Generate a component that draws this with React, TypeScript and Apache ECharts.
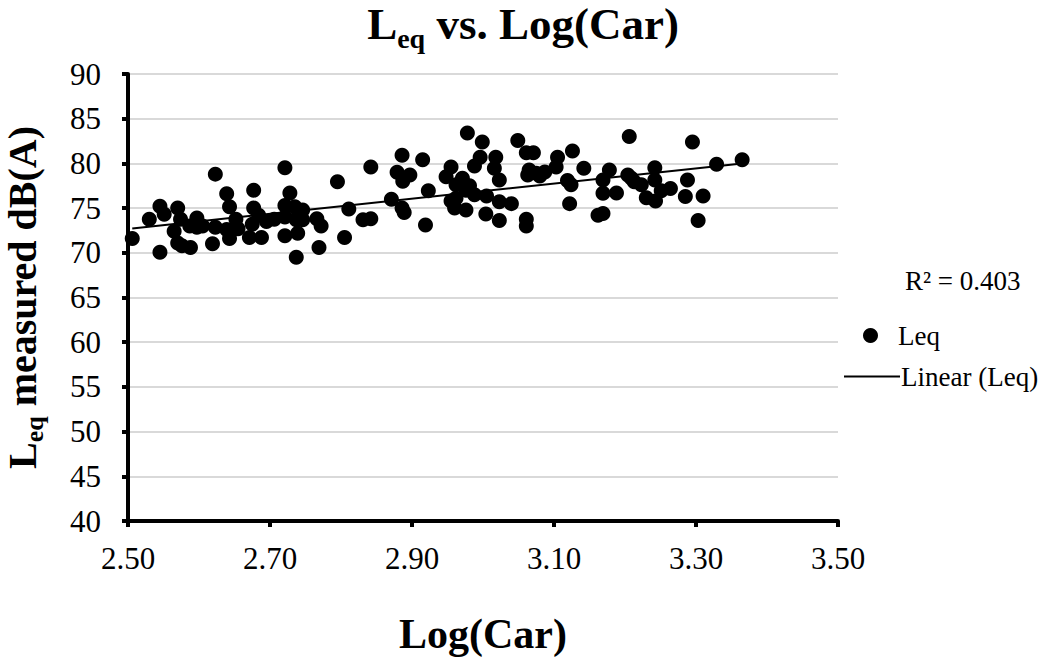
import React, { useEffect, useRef } from "react";
import * as echarts from "echarts";

const logCar: number[] = [
  2.506, 2.53, 2.545, 2.551, 2.545, 2.57, 2.574, 2.565, 2.57, 2.576,
  2.588, 2.587, 2.597, 2.597, 2.605, 2.623, 2.623, 2.619, 2.639, 2.643,
  2.639, 2.643, 2.652, 2.655, 2.671, 2.675, 2.677, 2.677, 2.684, 2.688,
  2.695, 2.706, 2.721, 2.728, 2.721, 2.721, 2.721, 2.735, 2.737, 2.737,
  2.739, 2.74, 2.746, 2.746, 2.769, 2.766, 2.772, 2.795, 2.805, 2.811,
  2.831, 2.842, 2.842, 2.871, 2.879, 2.887, 2.897, 2.886, 2.915, 2.886,
  2.889, 2.919, 2.923, 2.948, 2.955, 2.962, 2.971, 2.962, 2.96, 2.976,
  2.978, 2.976, 2.999, 2.996, 2.988, 2.981, 2.988, 3.005, 3.004, 3.018,
  3.016, 3.023, 3.023, 3.04, 3.023, 3.049, 3.061, 3.071, 3.065, 3.063,
  3.087, 3.105, 3.103, 3.126, 3.061, 3.061, 3.119, 3.124, 3.122, 3.142,
  3.162, 3.169, 3.169, 3.178, 3.169, 3.188, 3.206, 3.204, 3.213, 3.209,
  3.223, 3.23, 3.242, 3.242, 3.243, 3.251, 3.264, 3.295, 3.288, 3.285,
  3.31, 3.303, 3.329, 3.365, 3.075, 3.08, 2.955,
];

const leq: number[] = [
  71.6, 73.75, 75.2, 74.3, 70.05, 75.0, 73.75, 72.4, 71.1, 70.8,
  70.6, 73.0, 73.9, 72.85, 73.0, 78.8, 72.85, 71.0, 76.6, 75.15,
  72.6, 71.6, 73.75, 72.7, 71.7, 73.2, 77.0, 75.0, 74.2, 71.7,
  73.5, 73.75, 79.5, 76.7, 75.3, 74.0, 71.9, 75.15, 73.7, 69.5,
  72.2, 74.6, 74.8, 73.7, 70.6, 73.8, 73.0, 77.95, 71.7, 74.9,
  73.7, 73.8, 79.6, 76.0, 79.0, 78.0, 78.7, 80.9, 80.4, 75.0,
  74.5, 73.1, 76.95, 78.5, 79.6, 77.6, 78.35, 76.1, 75.0, 74.8,
  83.4, 77.0, 82.4, 80.7, 79.7, 77.5, 76.5, 76.35, 74.35, 80.7,
  79.45, 78.15, 75.7, 75.5, 73.6, 82.55, 81.2, 81.2, 79.25, 78.7,
  79.05, 80.7, 79.6, 81.4, 73.75, 73.0, 78.1, 77.6, 75.5, 79.45,
  74.2, 74.4, 78.15, 79.25, 76.65, 76.7, 83.0, 78.7, 77.95, 78.35,
  77.6, 76.15, 79.5, 78.15, 75.8, 76.95, 77.2, 82.4, 78.15, 76.3,
  76.35, 73.6, 79.9, 80.4, 78.9, 78.6, 75.8,
];

const xTicks = { min: 2.5, max: 3.5, interval: 0.2 };
const yTicks = { min: 40, max: 90, interval: 5 };
const r2Label = "R² = 0.403";

const FONT = "Liberation Serif";

function linearFit(xs: number[], ys: number[]) {
  const n = xs.length;
  let sx = 0, sy = 0, sxx = 0, sxy = 0;
  for (let i = 0; i < n; i++) {
    sx += xs[i]; sy += ys[i]; sxx += xs[i] * xs[i]; sxy += xs[i] * ys[i];
  }
  const slope = (n * sxy - sx * sy) / (n * sxx - sx * sx);
  const intercept = (sy - slope * sx) / n;
  return { slope, intercept };
}

export default function App() {
  const ref = useRef<HTMLDivElement>(null);
  useEffect(() => {
    if (!ref.current) return;
    const chart = echarts.init(ref.current, null, { renderer: "svg" });
    const pts = logCar.map((x, i) => [x, leq[i]]);
    const { slope, intercept } = linearFit(logCar, leq);
    const xMin = Math.min(...logCar);
    const xMax = Math.max(...logCar);
    const trend = [
      [xMin, slope * xMin + intercept],
      [xMax, slope * xMax + intercept],
    ];
    chart.setOption({
      animation: false,
      backgroundColor: "#ffffff",
      title: {
        text: "{a|L}{b|eq}{a| vs. Log(Car)}",
        left: 518,
        textAlign: "center",
        top: -4,
        textStyle: {
          rich: {
            a: { fontFamily: FONT, fontWeight: "bold", fontSize: 45, lineHeight: 46, color: "#000", verticalAlign: "middle" },
            b: { fontFamily: FONT, fontWeight: "bold", fontSize: 28, lineHeight: 28, padding: [28, 0, 0, 0], color: "#000", verticalAlign: "middle" },
          },
        },
      },
      grid: { left: 128, right: 200, top: 74, bottom: 137, containLabel: false, outerBoundsMode: "none" },
      xAxis: {
        type: "value",
        min: xTicks.min,
        max: xTicks.max,
        interval: xTicks.interval,
        name: "Log(Car)",
        nameLocation: "middle",
        nameGap: 92,
        nameTextStyle: { fontFamily: FONT, fontWeight: "bold", fontSize: 42, color: "#000" },
        axisLine: { show: true, lineStyle: { color: "#000", width: 4 } },
        axisTick: { show: true, inside: false, length: 6, lineStyle: { color: "#000", width: 4 } },
        axisLabel: { fontFamily: FONT, fontSize: 31, color: "#000", margin: 22, formatter: (v: number) => v.toFixed(2) },
        splitLine: { show: false },
      },
      yAxis: {
        type: "value",
        min: yTicks.min,
        max: yTicks.max,
        interval: yTicks.interval,
        name: "{a|L}{b|eq}{a| measured dB(A)}",
        nameLocation: "middle",
        nameGap: 84,
        nameRotate: 90,
        nameTextStyle: {
          rich: {
            a: { fontFamily: FONT, fontWeight: "bold", fontSize: 40, lineHeight: 44, color: "#000", verticalAlign: "middle" },
            b: { fontFamily: FONT, fontWeight: "bold", fontSize: 26, lineHeight: 26, padding: [24, 0, 0, 0], color: "#000", verticalAlign: "middle" },
          },
        },
        axisLine: { show: true, lineStyle: { color: "#000", width: 4 } },
        axisTick: { show: true, inside: false, length: 6, lineStyle: { color: "#000", width: 4 } },
        axisLabel: { fontFamily: FONT, fontSize: 31, color: "#000", margin: 27 },
        splitLine: { show: true, lineStyle: { color: "#d9d9d9", width: 2 } },
      },
      legend: [
        {
          data: [{ name: "Leq", icon: "circle" }],
          left: 858,
          top: 317,
          itemWidth: 15,
          itemHeight: 15,
          textStyle: { fontFamily: FONT, fontSize: 27, color: "#000", padding: [0, 0, 0, 15] },
        },
        {
          data: [{ name: "Linear (Leq)", icon: "rect" }],
          left: 839,
          top: 358,
          itemWidth: 56,
          itemHeight: 2,
          itemStyle: { color: "#000" },
          textStyle: { fontFamily: FONT, fontSize: 27, color: "#000", padding: [0, 0, 0, -4] },
        },
      ],
      graphic: [
        {
          type: "text",
          left: 905,
          top: 267,
          style: { text: r2Label, fontFamily: FONT, fontSize: 27, fill: "#000" },
        },
      ],
      series: [
        {
          name: "Leq",
          type: "scatter",
          data: pts,
          symbol: "circle",
          symbolSize: 15,
          itemStyle: { color: "#000", opacity: 1 },
          z: 3,
        },
        {
          name: "Linear (Leq)",
          type: "line",
          data: trend,
          symbol: "none",
          showSymbol: false,
          lineStyle: { color: "#000", width: 2 },
          itemStyle: { color: "#000" },
          z: 4,
        },
      ],
    });
    return () => chart.dispose();
  }, []);
  return <div ref={ref} style={{ position: "fixed", left: 0, top: 0, width: 1038, height: 658, background: "#fff" }} />;
}
